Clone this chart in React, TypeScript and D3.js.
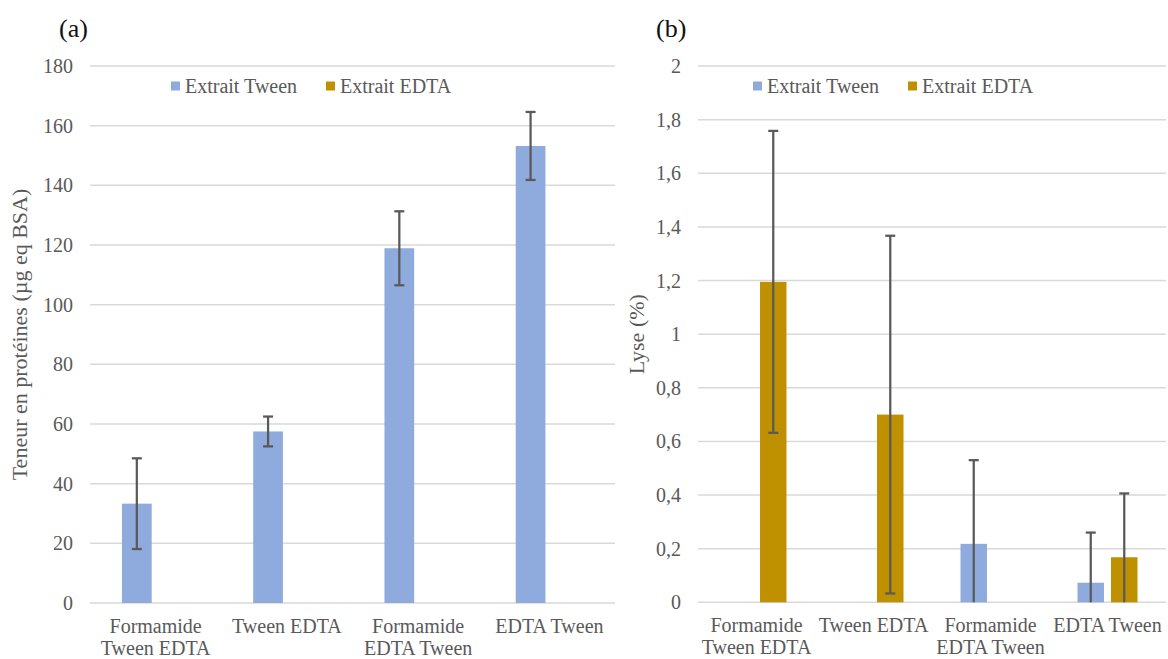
import React from "react";
import * as d3 from "d3";

const categories = ["Formamide Tween EDTA", "Tween EDTA", "Formamide EDTA Tween", "EDTA Tween"];
const seriesNames = ["Extrait Tween", "Extrait EDTA"];
const seriesColors = ["#8FAADC", "#BF9000"];

// Panel (a): protein content (µg eq BSA)
const proteinTween: (number | null)[] = [33.3, 57.5, 118.9, 153.2];
const proteinTweenErr: (number | null)[] = [15.2, 5.0, 12.4, 11.4];
const proteinEdta: (number | null)[] = [null, null, null, null];
const proteinEdtaErr: (number | null)[] = [null, null, null, null];
const proteinTicks = [0, 20, 40, 60, 80, 100, 120, 140, 160, 180];

// Panel (b): lysis (%)
const lysisTween: (number | null)[] = [null, null, 0.218, 0.073];
const lysisTweenErr: (number | null)[] = [null, null, 0.312, 0.187];
const lysisEdta: (number | null)[] = [1.195, 0.7, null, 0.168];
const lysisEdtaErr: (number | null)[] = [0.563, 0.667, null, 0.238];
const lysisTicks = [0, 0.2, 0.4, 0.6, 0.8, 1, 1.2, 1.4, 1.6, 1.8, 2];

const TEXT = "#595959";
const FONT = "'Liberation Serif', 'Times New Roman', Times, 'DejaVu Serif', serif";
const fontStyle = { fontFamily: FONT };

function wrapLabel(s: string): string[] {
  const w = s.split(" ");
  if (w.length >= 3) return [w[0], w.slice(1).join(" ")];
  return [s];
}

type PanelProps = {
  tag: string;
  tagX: number;
  x0: number;
  x1: number;
  yTop: number;
  yBottom: number;
  domain: [number, number];
  ticks: number[];
  fmt: (v: number) => string;
  values: (number | null)[][];
  errors: (number | null)[][];
  yTitle: string;
  yTitleX: number;
  legendX: number;
};

function Panel(p: PanelProps) {
  const x = d3.scaleBand<string>().domain(categories).range([p.x0, p.x1]).paddingInner(0).paddingOuter(0);
  const xs = d3
    .scaleBand<string>()
    .domain(seriesNames)
    .range([0, x.bandwidth()])
    .paddingInner(0.21)
    .paddingOuter(0.85);
  const y = d3.scaleLinear().domain(p.domain).range([p.yBottom, p.yTop]);
  const capW = 10;
  return (
    <g>
      <text x={p.tagX} y={37} fontSize={26} fill="#111" style={fontStyle}>
        {p.tag}
      </text>
      {p.ticks.map((t) => (
        <g key={t}>
          <line x1={p.x0} x2={p.x1} y1={y(t)} y2={y(t)} stroke="#D9D9D9" strokeWidth={1.5} />
          <text
            x={p.x0 - 17}
            y={y(t)}
            dy="0.35em"
            textAnchor="end"
            fontSize={20}
            fill={TEXT}
            style={fontStyle}
          >
            {p.fmt(t)}
          </text>
        </g>
      ))}
      {categories.map((c, ci) =>
        seriesNames.map((s, si) => {
          const v = p.values[si][ci];
          if (v == null) return null;
          const bx = (x(c) as number) + (xs(s) as number);
          return (
            <rect
              key={c + s}
              x={bx}
              y={y(v)}
              width={xs.bandwidth()}
              height={y(0) - y(v)}
              fill={seriesColors[si]}
            />
          );
        })
      )}
      {categories.map((c, ci) =>
        seriesNames.map((s, si) => {
          const v = p.values[si][ci];
          const e = p.errors[si][ci];
          if (v == null || e == null) return null;
          const cx = (x(c) as number) + (xs(s) as number) + xs.bandwidth() / 2;
          const hi = v + e;
          const lo = Math.max(v - e, p.domain[0]);
          const clipped = v - e < p.domain[0];
          return (
            <g key={"e" + c + s} stroke="#595959" strokeWidth={2.25}>
              <line x1={cx} x2={cx} y1={y(hi)} y2={y(lo)} />
              <line x1={cx - capW / 2} x2={cx + capW / 2} y1={y(hi)} y2={y(hi)} />
              {!clipped && <line x1={cx - capW / 2} x2={cx + capW / 2} y1={y(lo)} y2={y(lo)} />}
            </g>
          );
        })
      )}
      {categories.map((c) => {
        const lines = wrapLabel(c);
        const cx = (x(c) as number) + x.bandwidth() / 2;
        return (
          <text key={"l" + c} textAnchor="middle" fontSize={20} fill={TEXT} style={fontStyle}>
            {lines.map((l, i) => (
              <tspan key={i} x={cx} y={p.yBottom + 30 + i * 22}>
                {l}
              </tspan>
            ))}
          </text>
        );
      })}
      <text
        transform={`translate(${p.yTitleX},${(p.yTop + p.yBottom) / 2}) rotate(-90)`}
        textAnchor="middle"
        dy="0.35em"
        fontSize={22}
        fill={TEXT}
        style={fontStyle}
      >
        {p.yTitle}
      </text>
      {seriesNames.map((s, si) => (
        <g key={"lg" + s} transform={`translate(${p.legendX + si * 155},86)`}>
          <rect x={0} y={-4.5} width={9} height={9} fill={seriesColors[si]} />
          <text x={14} y={0} dy="0.35em" fontSize={20} fill={TEXT} style={fontStyle}>
            {s}
          </text>
        </g>
      ))}
    </g>
  );
}

const fmtInt = (v: number) => d3.format("d")(v);
const fmtComma = (v: number) => String(+v.toFixed(1)).replace(".", ",");

export default function App() {
  return (
    <svg
      width={1168}
      height={659}
      style={{ position: "absolute", left: 0, top: 0, background: "#fff" }}
    >
      <rect width={1168} height={659} fill="#fff" />
      <Panel
        tag="(a)"
        tagX={59}
        x0={90}
        x1={615}
        yTop={66}
        yBottom={603}
        domain={[0, 180]}
        ticks={proteinTicks}
        fmt={fmtInt}
        values={[proteinTween, proteinEdta]}
        errors={[proteinTweenErr, proteinEdtaErr]}
        yTitle="Teneur en protéines (µg eq BSA)"
        yTitleX={19}
        legendX={171}
      />
      <Panel
        tag="(b)"
        tagX={656}
        x0={698}
        x1={1166}
        yTop={66}
        yBottom={602.3}
        domain={[0, 2]}
        ticks={lysisTicks}
        fmt={fmtComma}
        values={[lysisTween, lysisEdta]}
        errors={[lysisTweenErr, lysisEdtaErr]}
        yTitle="Lyse (%)"
        yTitleX={636}
        legendX={753}
      />
    </svg>
  );
}
